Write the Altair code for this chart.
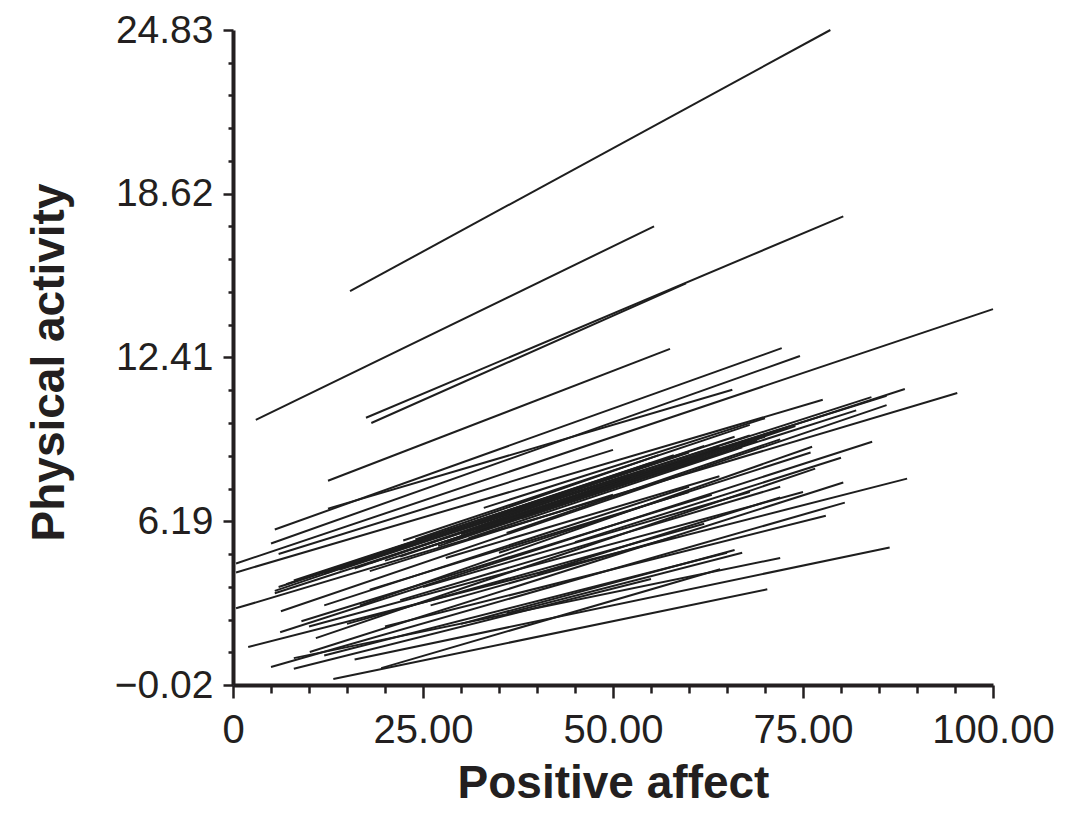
import altair as alt
import pandas as pd

# Individual regression lines: start and end points (positive affect, physical activity)
x_start = [15.4, 3.0, 17.5, 18.2, 12.5, 0.4, 5.5, 5.0, 12.5, 0.4,
           5.5, 0.4, 6.3, 16.7, 6.2, 10.9, 10.1, 2.0, 5.0, 13.2,
           19.5, 16.0, 8.0, 12.0, 20.0, 15.0, 22.0, 25.0, 9.0, 18.0,
           28.0, 36.0, 5.5, 6.0, 7.0, 8.0, 9.0, 10.0, 12.0, 14.0,
           16.0, 18.0, 20.0, 22.0, 25.0, 28.0, 30.0, 32.0, 35.0, 38.0,
           24.0, 40.0, 33.0, 22.4, 12.0, 26.0, 30.0, 40.0, 45.0, 35.0,
           6.0, 10.0, 8.0, 27.0, 31.0, 20.0, 36.0, 18.0]
y_start = [14.92, 10.04, 10.12, 9.92, 7.73, 4.59, 5.88, 5.35, 6.67, 4.25,
           3.46, 2.89, 2.78, 3.00, 1.98, 1.76, 1.23, 1.42, 0.66, 0.21,
           0.62, 0.95, 0.60, 1.10, 2.20, 2.30, 3.20, 3.70, 2.40, 3.60,
           4.80, 2.70, 3.55, 3.70, 3.80, 3.95, 4.00, 4.10, 4.20, 4.35,
           4.40, 4.60, 4.70, 4.85, 5.15, 5.40, 5.70, 5.85, 6.05, 6.30,
           5.50, 6.55, 6.70, 5.46, 3.00, 3.00, 2.30, 4.20, 5.40, 5.00,
           4.95, 2.20, 1.00, 5.25, 5.55, 5.00, 5.75, 4.30]
x_end = [78.6, 55.4, 80.3, 59.6, 57.5, 100.0, 72.2, 74.6, 65.7, 77.6,
         88.4, 95.3, 86.0, 76.2, 84.1, 76.6, 80.3, 88.7, 80.5, 70.3,
         64.1, 86.4, 55.0, 65.0, 78.0, 62.0, 72.0, 68.0, 63.0, 60.0,
         64.0, 67.0, 62.0, 84.0, 58.0, 66.0, 55.0, 86.0, 60.0, 68.0,
         52.0, 64.0, 82.0, 58.0, 70.0, 62.0, 73.0, 66.0, 60.0, 69.0,
         56.0, 74.0, 70.0, 68.0, 60.0, 58.0, 66.0, 72.0, 80.0, 76.0,
         50.0, 75.0, 72.0, 61.0, 67.0, 54.0, 72.0, 50.0]
y_end = [24.83, 17.38, 17.76, 15.22, 12.73, 14.24, 12.76, 12.46, 11.18, 10.80,
         11.21, 11.06, 10.60, 9.02, 9.21, 8.19, 7.66, 7.81, 6.90, 3.61,
         4.37, 5.20, 4.00, 5.00, 6.40, 6.10, 7.50, 7.30, 7.20, 7.30,
         7.90, 5.00, 9.05, 10.90, 8.70, 9.40, 8.40, 10.95, 8.80, 9.45,
         7.95, 9.00, 10.40, 8.35, 9.40, 8.65, 9.75, 9.10, 8.45, 9.25,
         8.70, 9.80, 10.10, 9.85, 7.50, 5.60, 5.10, 7.10, 8.60, 8.80,
         8.90, 7.30, 4.80, 8.55, 9.00, 8.10, 9.30, 7.20]

# Axis ticks
x_major = [0, 25, 50, 75, 100]
y_major = [-0.02, 6.19, 12.41, 18.62, 24.83]

x_ticks = []
for a, b in zip(x_major[:-1], x_major[1:]):
    x_ticks += [a + (b - a) * k / 5 for k in range(5)]
x_ticks.append(x_major[-1])
y_ticks = []
for a, b in zip(y_major[:-1], y_major[1:]):
    y_ticks += [a + (b - a) * k / 5 for k in range(5)]
y_ticks.append(y_major[-1])

df = pd.DataFrame({"x1": x_start, "y1": y_start, "x2": x_end, "y2": y_end})

INK = "#231f20"
FONT = "Liberation Sans"
x_major_expr = "indexof([" + ",".join(str(v) for v in x_major) + "], datum.value) >= 0"
y_major_expr = "indexof([" + ",".join(str(v) for v in y_major) + "], datum.value) >= 0"

x_axis = alt.Axis(
    title="Positive affect",
    values=x_ticks,
    labelExpr="datum.value == 0 ? '0' : (" + x_major_expr + " ? format(datum.value, '.2f') : '')",
    grid=False,
    domainColor=INK, domainWidth=4,
    tickColor=INK, tickWidth=2.5,
    tickSize={"condition": {"test": x_major_expr, "value": 13}, "value": 8},
    labelFont=FONT, labelFontSize=40, labelColor=INK, labelPadding=12,
    labelOverlap=False, labelFlush=False,
    titleFont=FONT, titleFontSize=46, titleFontWeight="bold", titleColor=INK,
    titleX=380, titleY=112, titleBaseline="alphabetic", titleAlign="center",
)
y_axis = alt.Axis(
    title="Physical activity",
    values=y_ticks,
    labelExpr="(" + y_major_expr + ") ? format(datum.value, '.2f') : ''",
    grid=False,
    domainColor=INK, domainWidth=4,
    tickColor=INK, tickWidth=2.5,
    tickSize={"condition": {"test": y_major_expr, "value": 10}, "value": 5},
    labelFont=FONT, labelFontSize=39, labelColor=INK, labelPadding=10,
    labelOverlap=False, labelFlush=False, labelBaseline="middle",
    titleFont=FONT, titleFontSize=46, titleFontWeight="bold", titleColor=INK,
    titleAngle=270, titleX=-170, titleY=332, titleBaseline="alphabetic", titleAlign="center",
)

chart = (
    alt.Chart(df)
    .mark_rule(color="#1e1e1e", strokeWidth=2)
    .encode(
        x=alt.X("x1:Q", scale=alt.Scale(domain=[0, 100], nice=False, zero=False), axis=x_axis),
        x2="x2:Q",
        y=alt.Y("y1:Q", scale=alt.Scale(domain=[-0.02, 24.83], nice=False, zero=False), axis=y_axis),
        y2="y2:Q",
    )
    .properties(
        width=760,
        height=655,
        autosize=alt.AutoSizeParams(type="none"),
        padding={"left": 225, "top": 22, "right": 65, "bottom": 124},
    )
    .configure_view(stroke=None)
)

chart.save("out.html", embed_options={"renderer": "svg", "actions": False})
